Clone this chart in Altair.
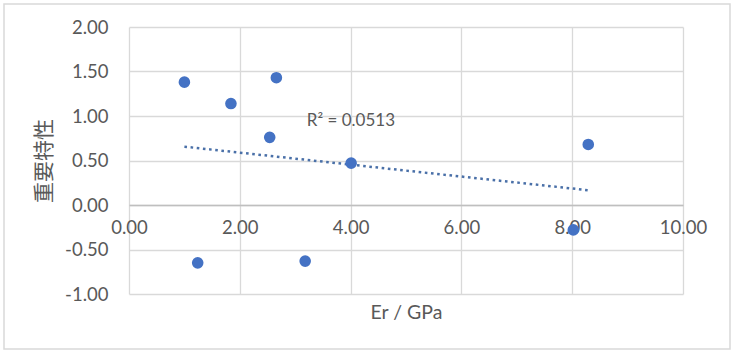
import altair as alt
import pandas as pd

er = [1.00, 1.24, 1.84, 2.54, 2.66, 3.18, 4.01, 8.02, 8.29]
importance = [1.38, -0.65, 1.14, 0.76, 1.43, -0.63, 0.47, -0.28, 0.68]
x_ticks = [0, 2, 4, 6, 8, 10]
y_ticks = [-1.0, -0.5, 0.0, 0.5, 1.0, 1.5, 2.0]
r2_label = ["R² = 0.0513"]
r2_pos_x = [3.21]
r2_pos_y = [0.94]

df = pd.DataFrame({"x": er, "y": importance})
ann = pd.DataFrame({"x": r2_pos_x, "y": r2_pos_y, "t": r2_label})

W, H = 554, 267
LABEL = "#595959"
FONT = "Lato"
LBL_EXPR = "(datum.value < 0 ? '-' : '') + format(abs(datum.value), '.2f')"

xs = alt.Scale(domain=[0, 10], nice=False)
ys = alt.Scale(domain=[-1, 2], nice=False)

x_axis = alt.Axis(
    values=x_ticks, labelExpr=LBL_EXPR, grid=True, gridColor="#d9d9d9", gridWidth=1.3,
    domain=True, domainColor="#bfbfbf", domainWidth=1.5, ticks=False,
    offset=-H / 3, labelPadding=13, labelFont=FONT, labelFontSize=18.5,
    labelFlush=False, labelOverlap=False,
    labelColor=LABEL, title="Er / GPa", titleFont=FONT, titleFontSize=19.5,
    titleFontWeight="normal", titleColor=LABEL, titleY=107, titleBaseline="middle",
)
y_axis = alt.Axis(
    values=y_ticks, labelExpr=LBL_EXPR, grid=True, gridColor="#d9d9d9", gridWidth=1.3,
    domain=False, ticks=False, labelPadding=21, labelFont=FONT, labelFontSize=18.5,
    labelFlush=False, labelOverlap=False,
    labelColor=LABEL, title="重要特性", titleFont="Noto Sans CJK SC", titleFontSize=21,
    titleFontWeight="normal", titleColor=LABEL, titleX=-85, titleY=H / 2,
    titleAngle=270, titleAlign="center", titleBaseline="middle",
)

border = alt.Chart(pd.DataFrame({"a": [0]})).mark_rect(
    fillOpacity=0, stroke="#d9d9d9", strokeWidth=1.5, clip=False
).encode(
    x=alt.value(-125), x2=alt.value(W + 47), y=alt.value(-23), y2=alt.value(H + 55)
)

base = alt.Chart(df)

points = base.mark_circle(size=135, color="#4472C4", opacity=1).encode(
    x=alt.X("x:Q", scale=xs, axis=x_axis),
    y=alt.Y("y:Q", scale=ys, axis=y_axis),
)

trend = base.transform_regression("x", "y").mark_line(
    color="#4a70a8", strokeWidth=2.5, strokeDash=[2.6, 3.6]
).encode(x=alt.X("x:Q", scale=xs), y=alt.Y("y:Q", scale=ys))

text = alt.Chart(ann).mark_text(
    align="left", baseline="middle", font=FONT, fontSize=17, color=LABEL
).encode(x=alt.X("x:Q", scale=xs), y=alt.Y("y:Q", scale=ys), text="t:N")

chart = alt.layer(border, trend, points, text).properties(
    width=W, height=H,
    autosize=alt.AutoSizeParams(type="none"),
    padding={"left": 129, "top": 27, "right": 50, "bottom": 58},
    background="white",
).configure_view(stroke=None)

chart.save("out.html", embed_options={"renderer": "svg", "actions": False})
